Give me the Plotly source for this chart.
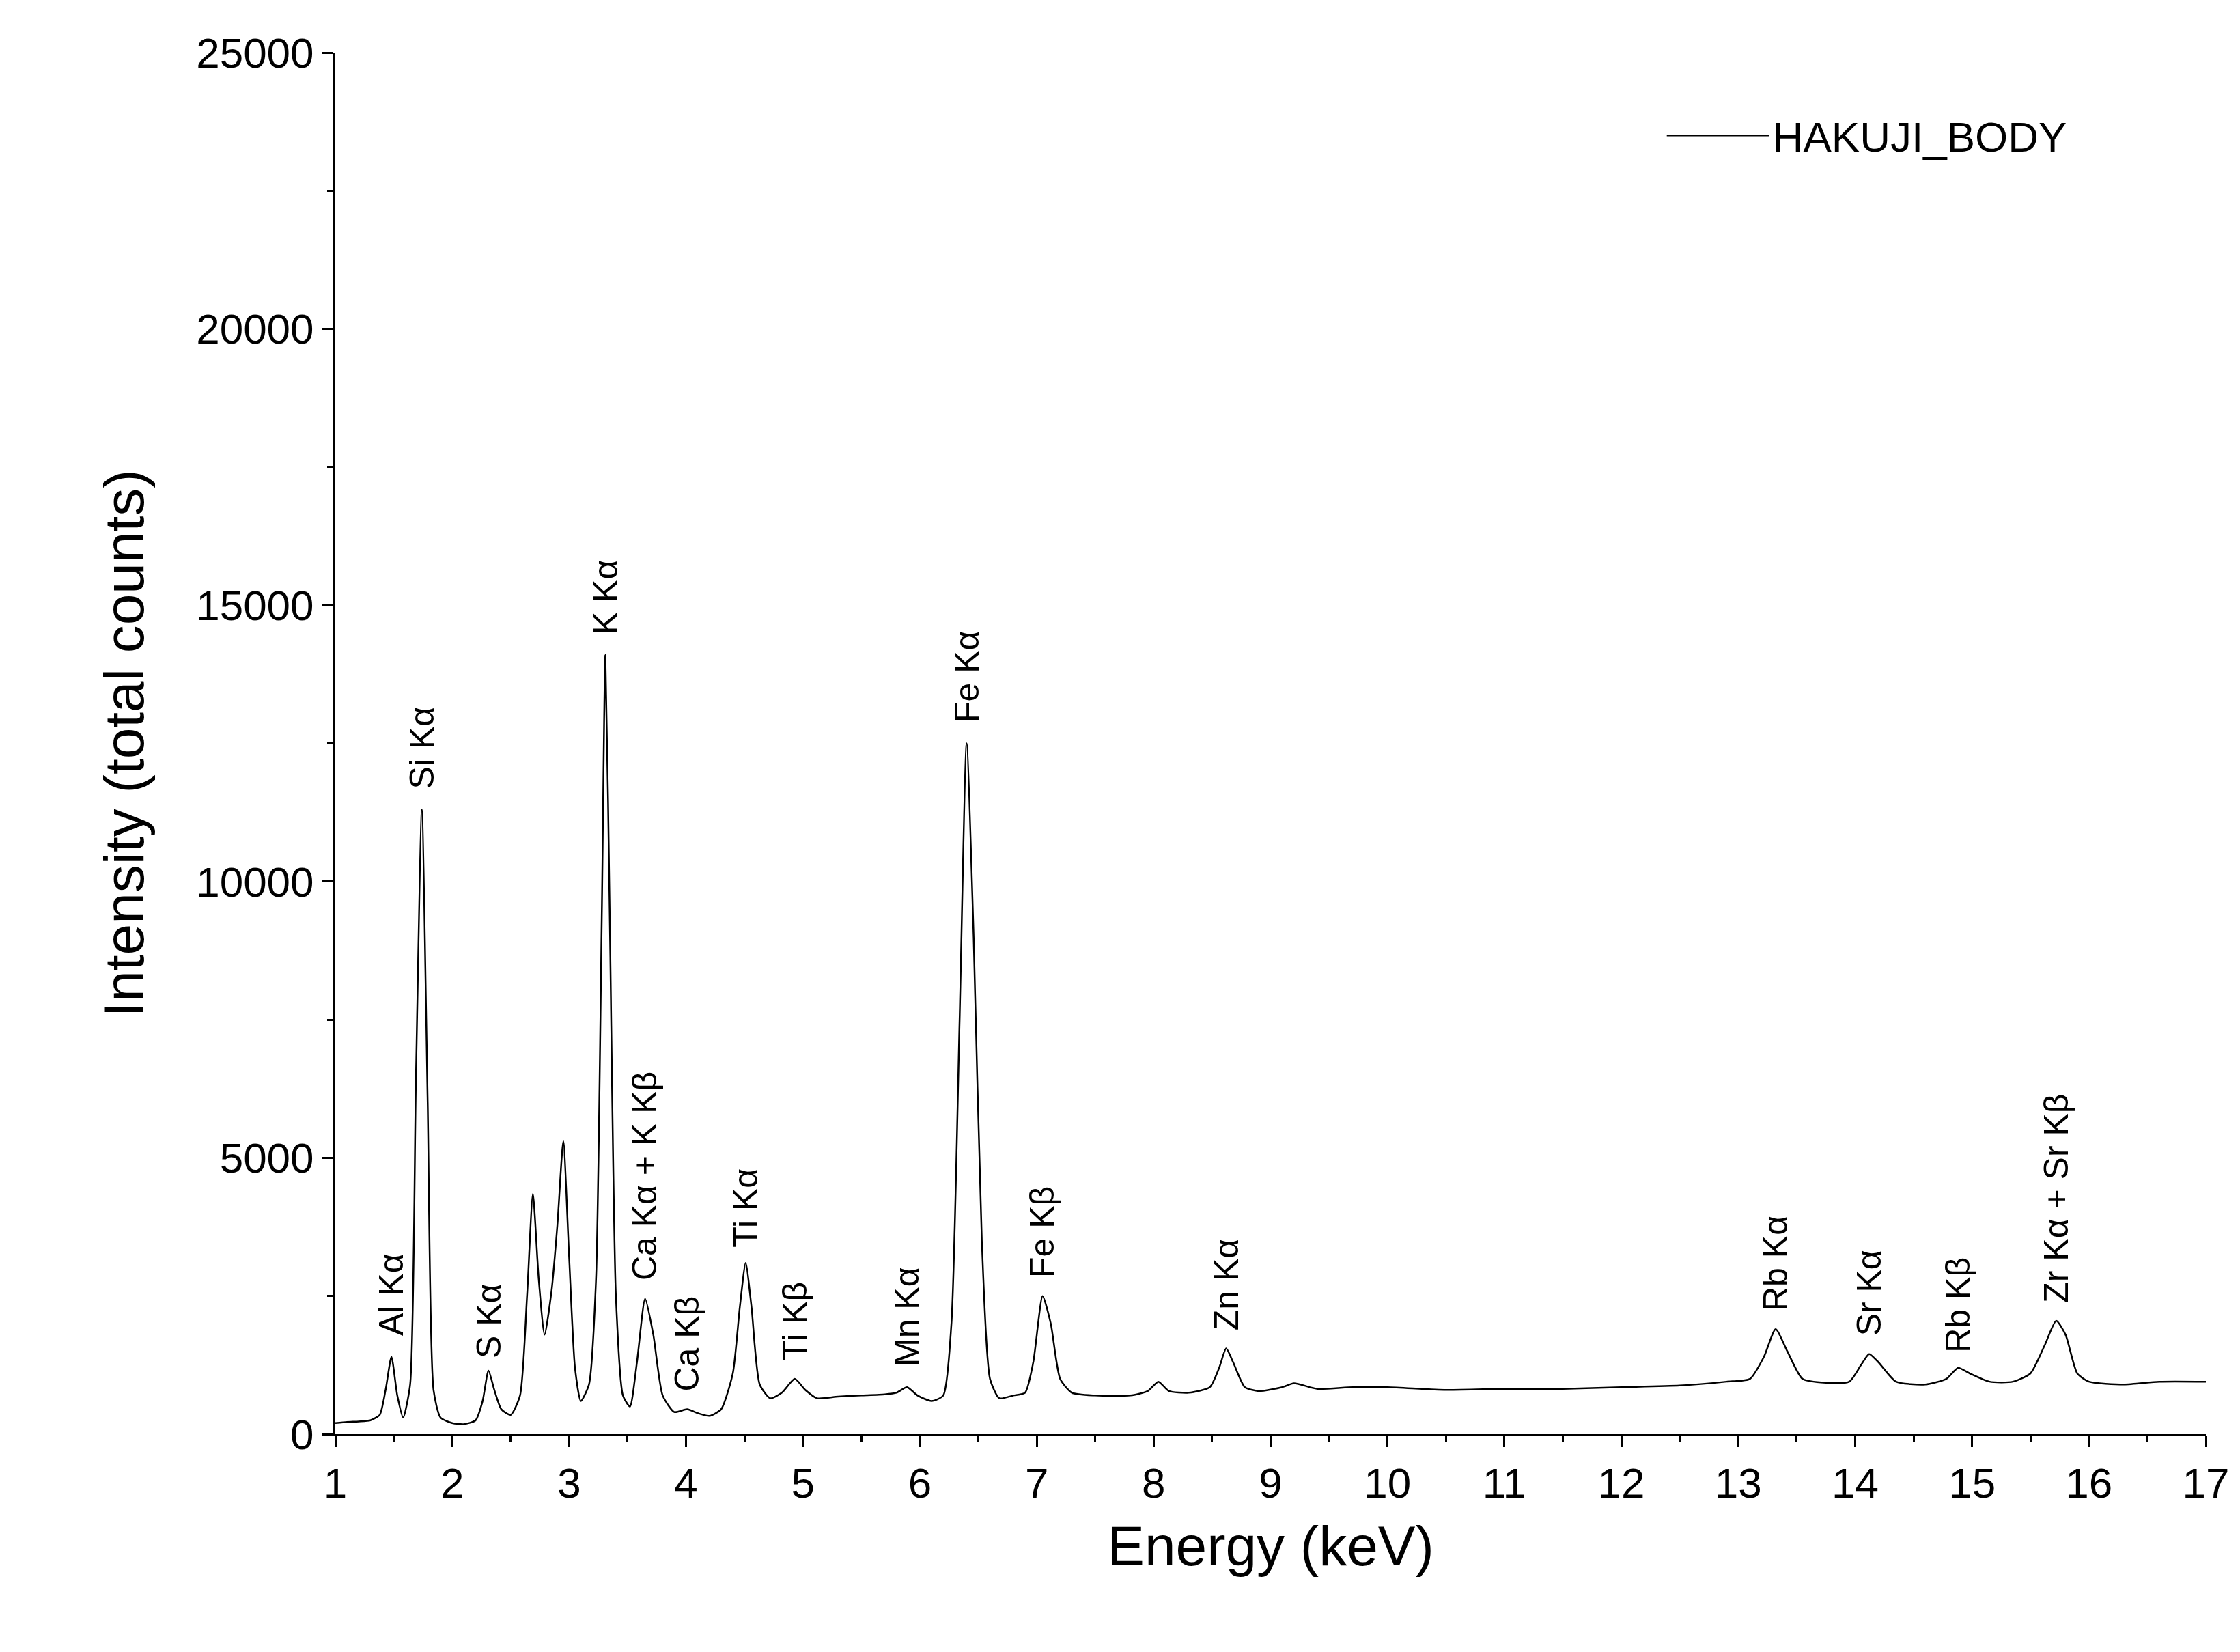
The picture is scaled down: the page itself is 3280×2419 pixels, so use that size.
import plotly.graph_objects as go

# spectrum (energy keV, total counts)
energy = [1.0, 1.1, 1.2, 1.3, 1.38, 1.43, 1.48, 1.53, 1.58, 1.64, 1.69, 1.74, 1.79, 1.84, 1.9, 2.0, 2.1, 2.2, 2.26,
          2.31, 2.36, 2.42, 2.5, 2.58, 2.64, 2.69, 2.74, 2.79, 2.85, 2.9, 2.95, 3.0, 3.05, 3.1, 3.17, 3.23, 3.28,
          3.31, 3.35, 3.4, 3.46, 3.52, 3.58, 3.65, 3.72, 3.8, 3.9, 4.01, 4.1, 4.2, 4.3, 4.4, 4.46, 4.51, 4.56,
          4.63, 4.72, 4.82, 4.93, 5.02, 5.12, 5.3, 5.5, 5.7, 5.8, 5.89, 5.98, 6.1, 6.2, 6.27, 6.34, 6.4, 6.46,
          6.53, 6.6, 6.68, 6.8, 6.9, 6.97, 7.05, 7.12, 7.2, 7.3, 7.5, 7.8, 7.95, 8.04, 8.13, 8.3, 8.48, 8.56,
          8.62, 8.68, 8.78, 8.9, 9.1, 9.2, 9.4, 9.7, 10.0, 10.5, 11.0, 11.5, 12.0, 12.5, 12.9, 13.1, 13.22, 13.32,
          13.42, 13.55, 13.75, 13.95, 14.05, 14.12, 14.2, 14.35, 14.6, 14.78, 14.88, 14.98, 15.15, 15.35, 15.5,
          15.62, 15.72, 15.8, 15.9, 16.0, 16.3, 16.6, 17.0]
counts = [200, 220, 230, 250, 350, 800, 1400, 700, 300, 900, 6500, 11300, 6000, 800, 300, 200, 180, 250, 600,
          1150, 800, 450, 350, 700, 2500, 4350, 2800, 1800, 2600, 3800, 5300, 3200, 1200, 600, 900, 2800, 9500,
          14100, 9000, 2500, 700, 500, 1300, 2450, 1800, 700, 400, 450, 380, 330, 450, 1100, 2300, 3100, 2300,
          900, 650, 750, 1000, 800, 650, 680, 700, 720, 750, 850, 700, 600, 700, 2000, 7500, 12500, 9000,
          3500, 1000, 650, 700, 750, 1300, 2500, 2000, 1000, 750, 700, 700, 780, 950, 780, 750, 850, 1200,
          1550, 1300, 850, 780, 850, 920, 820, 850, 850, 800, 820, 820, 850, 880, 950, 1000, 1400, 1900,
          1500, 1000, 930, 950, 1250, 1450, 1300, 950, 900, 1000, 1200, 1100, 950, 950, 1100,
          1600, 2050, 1800, 1100, 950, 900, 950, 950]

labels = ["Al K\u03b1", "Si K\u03b1", "S K\u03b1", "K K\u03b1", "Ca K\u03b1 + K K\u03b2", "Ca K\u03b2",
          "Ti K\u03b1", "Ti K\u03b2", "Mn K\u03b1", "Fe K\u03b1", "Fe K\u03b2", "Zn K\u03b1",
          "Rb K\u03b1", "Sr K\u03b1", "Rb K\u03b2", "Zr K\u03b1 + Sr K\u03b2"]
label_x = [1.48, 1.74, 2.31, 3.31, 3.65, 4.01, 4.51, 4.93, 5.89, 6.40, 7.05, 8.62, 13.32, 14.12, 14.88, 15.72]
label_y = [1750, 11650, 1350, 14450, 2750, 750, 3350, 1300, 1200, 12850, 2800, 1850, 2200, 1750, 1450, 2350]

FONT = "Liberation Sans, Arial, sans-serif"

fig = go.Figure()
fig.add_trace(go.Scatter(x=energy, y=counts, mode="lines", name="HAKUJI_BODY", showlegend=True,
                         line=dict(color="black", width=2.5, shape="spline", smoothing=0.6)))

for txt, x, y in zip(labels, label_x, label_y):
    fig.add_annotation(x=x, y=y, text=txt, textangle=-90, showarrow=False,
                       xanchor="center", yanchor="bottom", font=dict(size=50, color="black", family=FONT))

axis_common = dict(showline=True, linecolor="black", linewidth=3, ticks="outside", ticklen=16, tickwidth=3,
                   tickcolor="black", showgrid=False, zeroline=False,
                   tickfont=dict(size=62, color="black", family=FONT),
                   minor=dict(ticks="outside", ticklen=9, tickwidth=3, tickcolor="black"))

fig.update_xaxes(range=[1, 17], dtick=1, minor_dtick=0.5,
                 title=dict(text="Energy (keV)", font=dict(size=82, family=FONT, color="black"), standoff=30),
                 **axis_common)
fig.update_yaxes(range=[0, 25000], dtick=5000, minor_dtick=2500, tickformat="d",
                 title=dict(text="Intensity (total counts)", font=dict(size=82, family=FONT, color="black"), standoff=50),
                 **axis_common)

fig.update_layout(width=3280, height=2419, plot_bgcolor="white", paper_bgcolor="white",
                  margin=dict(l=483, r=58, t=69, b=327),
                  legend=dict(x=0.71, y=0.94, xanchor="left", yanchor="middle", bgcolor="rgba(0,0,0,0)",
                              font=dict(size=62, family=FONT, color="black"), itemwidth=150))

fig.write_html("out.html")
